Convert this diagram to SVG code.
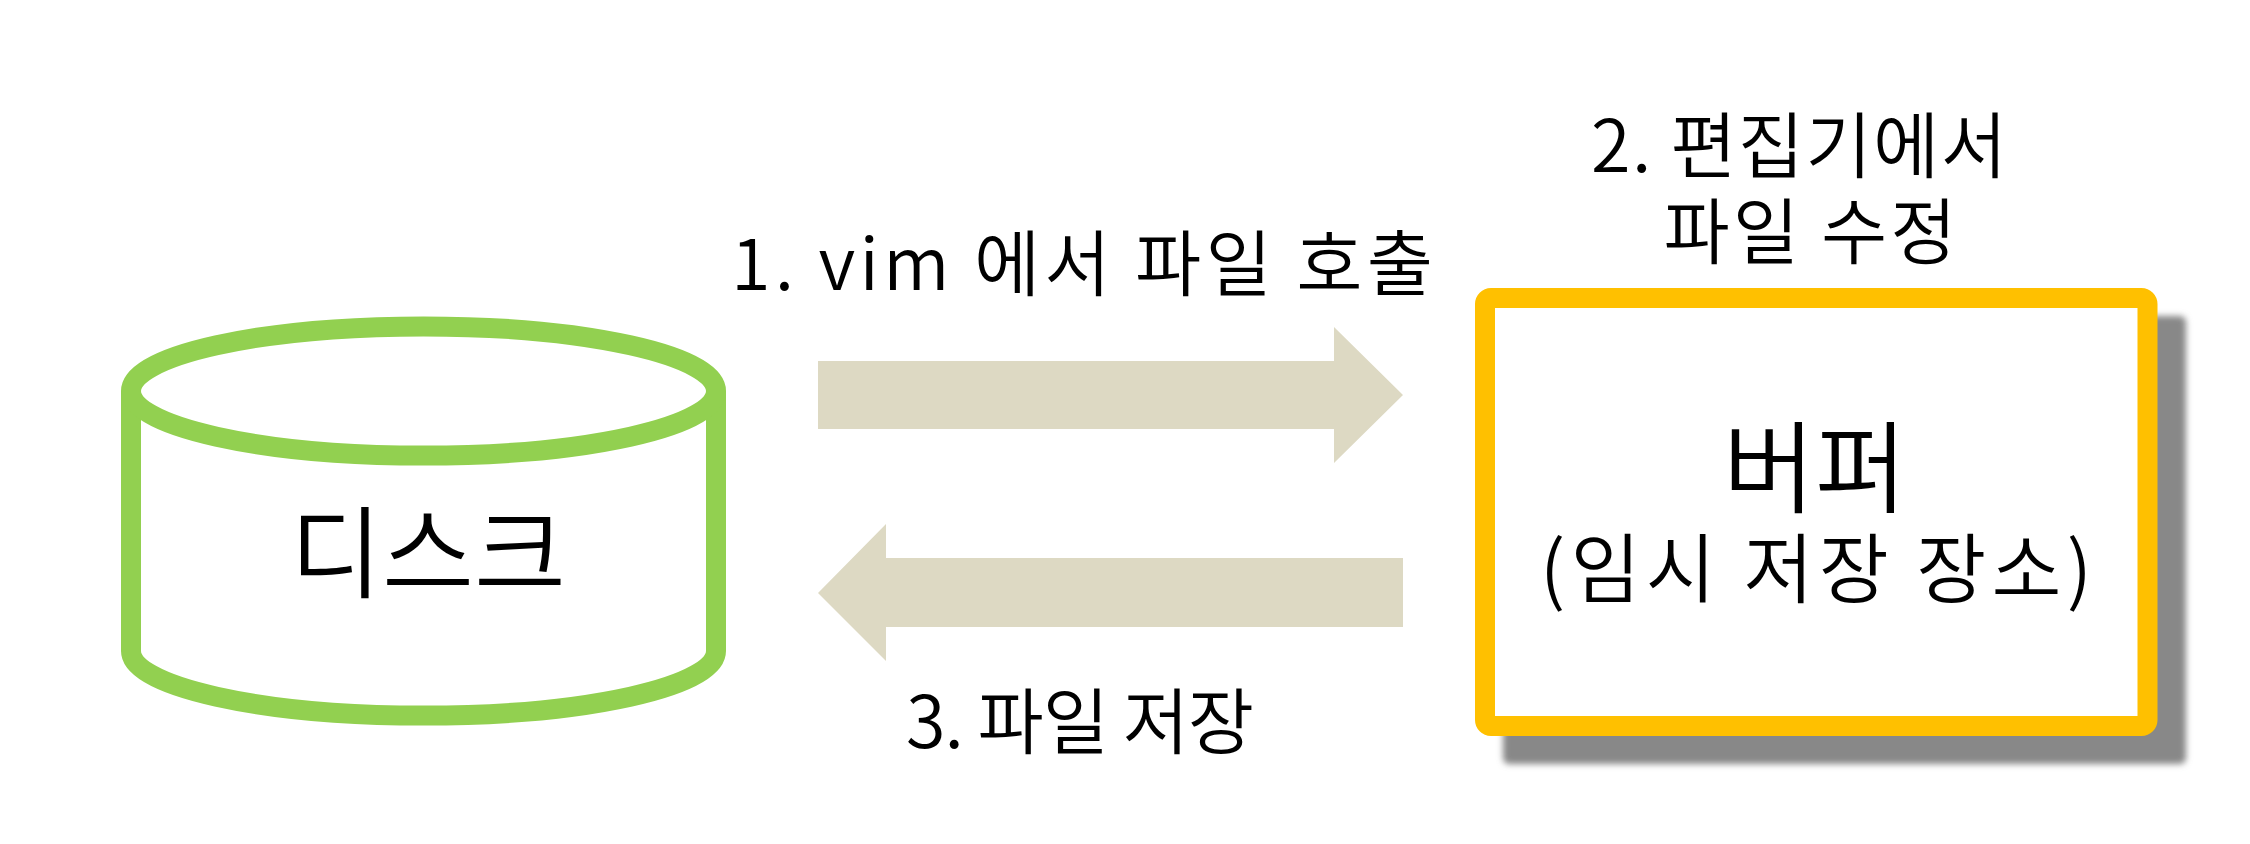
<svg xmlns="http://www.w3.org/2000/svg" width="2250" height="844" viewBox="0 0 2250 844">
<defs>
<style>
.t{font-family:"Noto Sans CJK KR","Noto Sans",sans-serif;font-weight:350;fill:#000;text-anchor:middle}
.lbl{font-size:72px}
.big{font-size:100px}
.sub{font-size:76px}
.arrow{fill:#DDD9C3}
</style>
<filter id="sh" x="-10%" y="-10%" width="120%" height="120%"><feGaussianBlur stdDeviation="3"/></filter>
</defs>
<rect width="2250" height="844" fill="#fff"/>
<g id="connectors">
<path class="arrow" d="M818,361 L1334,361 L1334,327 L1403,395 L1334,463 L1334,429 L818,429 Z"/>
<path class="arrow" d="M1403,558 L886,558 L886,524 L818,593 L886,661 L886,627 L1403,627 Z"/>
<text class="t lbl" x="1082" y="290" textLength="702">1. vim 에서 파일 호출</text>
<text class="t lbl" x="1080" y="748" textLength="348">3. 파일 저장</text>
</g>
<g id="disk">
<path d="M131,391 L131,651 A292.5,64.6 0 0 0 716,651 L716,391" fill="#fff" stroke="#92D050" stroke-width="20"/>
<ellipse cx="423.5" cy="391" rx="292.5" ry="64.6" fill="#fff" stroke="#92D050" stroke-width="20"/>
<text class="t big" x="428" y="590" textLength="276">디스크</text>
</g>
<g id="buffer">
<rect x="1503" y="316" width="683" height="448" rx="6" fill="#888" filter="url(#sh)"/>
<rect x="1485" y="298" width="662.5" height="428" rx="6" fill="#fff" stroke="#FFC000" stroke-width="20"/>
<text class="t big" x="1815" y="505">버퍼</text>
<text class="t sub" x="1816" y="597" textLength="552">(임시 저장 장소)</text>
</g>
<g id="edit-label">
<text class="t lbl" x="1799" y="172" textLength="416">2. 편집기에서</text>
<text class="t lbl" x="1810" y="258" textLength="293">파일 수정</text>
</g>
</svg>
